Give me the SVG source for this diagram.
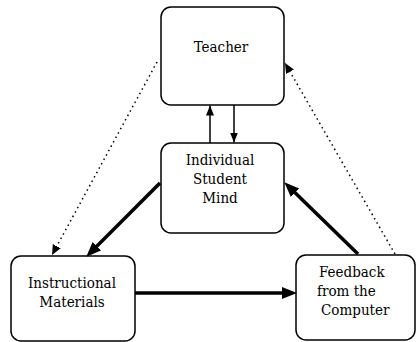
<svg xmlns="http://www.w3.org/2000/svg" width="416" height="342" viewBox="0 0 416 342">
<defs>
<style>
.box{fill:#fff;stroke:#000;stroke-width:1.5}
text{font-family:'DejaVu Serif Condensed','DejaVu Serif',serif;font-stretch:condensed;font-size:15px;fill:#000}
.c{text-anchor:middle}
.thick{stroke:#000;stroke-width:3.5;fill:none}
.thin{stroke:#000;stroke-width:1.5;fill:none}
.dot{stroke:#000;stroke-width:1.5;fill:none;stroke-dasharray:1.5 3.5}
</style>
<marker id="big" markerUnits="userSpaceOnUse" markerWidth="16" markerHeight="14" refX="10" refY="6" orient="auto">
<path d="M0,0 L15,6 L0,12 Z" fill="#000"/>
</marker>
<marker id="small" markerUnits="userSpaceOnUse" markerWidth="11" markerHeight="9" refX="10" refY="4" orient="auto">
<path d="M0,0 L10,4 L0,8 Z" fill="#000"/>
</marker>
<marker id="dotm" markerUnits="userSpaceOnUse" markerWidth="11" markerHeight="10" refX="10" refY="4.5" orient="auto">
<path d="M0,0 L10,4.5 L0,9 Z" fill="#000"/>
</marker>
</defs>
<rect width="416" height="342" fill="#fff"/>
<g id="teacher">
<rect class="box" x="161" y="7" width="123" height="98" rx="10"/>
<text class="c" x="221" y="52">Teacher</text>
</g>
<g id="mind">
<rect class="box" x="161" y="143" width="123" height="90" rx="10"/>
<text class="c" x="220" y="165">Individual</text>
<text class="c" x="220" y="184">Student</text>
<text class="c" x="220" y="203">Mind</text>
</g>
<g id="materials">
<rect class="box" x="11" y="256" width="124" height="85" rx="10"/>
<text class="c" x="72" y="288">Instructional</text>
<text class="c" x="72" y="307">Materials</text>
</g>
<g id="feedback">
<rect class="box" x="296" y="255" width="119" height="85" rx="10"/>
<text x="319" y="277">Feedback</text>
<text x="317" y="296">from the</text>
<text x="321" y="315">Computer</text>
</g>
<g id="connectors">
<line class="thin" x1="210" y1="143" x2="210" y2="105.5" marker-end="url(#small)"/>
<line class="thin" x1="234" y1="105" x2="234" y2="142.5" marker-end="url(#small)"/>
<line class="thick" x1="160" y1="183" x2="89.8" y2="253.2" marker-end="url(#big)"/>
<line class="thick" x1="358" y1="254" x2="287.9" y2="185.8" marker-end="url(#big)"/>
<line class="thick" x1="135" y1="293" x2="292" y2="293" marker-end="url(#big)"/>
<line class="dot" x1="157" y1="62" x2="52" y2="255" marker-end="url(#dotm)"/>
<line class="dot" x1="395" y1="254" x2="285" y2="63" marker-end="url(#dotm)"/>
</g>
</svg>
